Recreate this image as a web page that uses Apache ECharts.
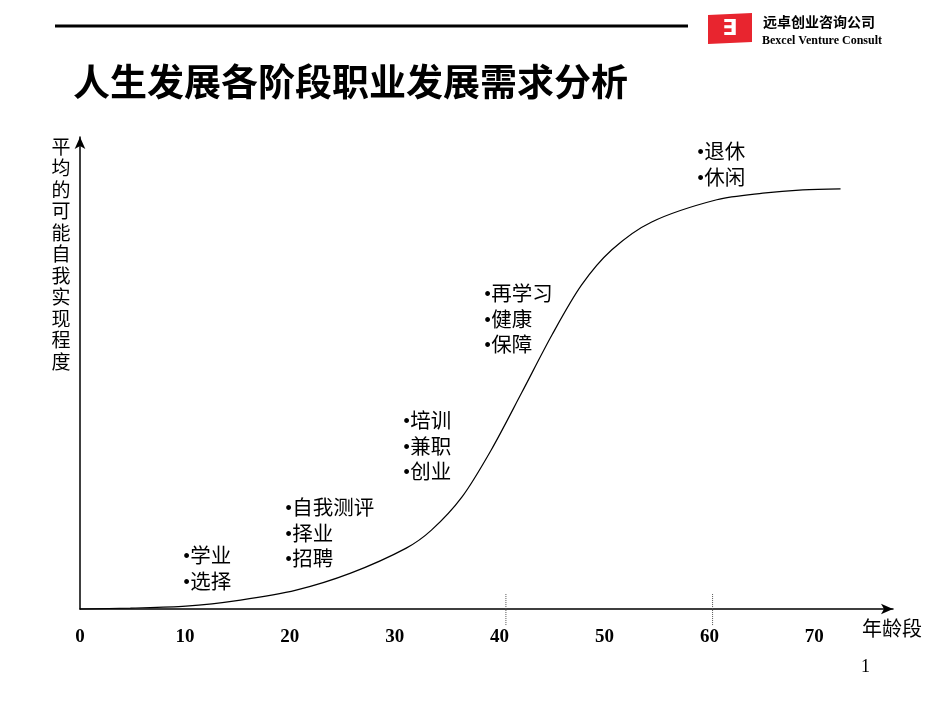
<!DOCTYPE html>
<html>
<head>
  <meta charset="utf-8">
  <script src="https://cdn.jsdelivr.net/npm/echarts@6/dist/echarts.min.js"></script>
  <style>html,body{margin:0;background:#fff}</style>
</head>
<body>
  <div id="chart" style="width:950px;height:713px;"></div>
  <script>
    // age (x) vs self-realisation level (y, 0-100)
    const ages = [0, 4.8, 10.1, 15.3, 20.6, 25.8, 31.1, 33.5, 36.4, 39.2, 42.1, 45.0, 47.8, 50.7, 54.5, 60.7, 65.1, 68.9, 72.5];
    const levels = [0, 0.2, 0.6, 1.9, 4.0, 7.6, 12.9, 16.7, 23.7, 33.7, 45.8, 58.1, 68.6, 76.1, 82.0, 86.7, 88.1, 88.8, 89.0];
    const tickAges = [0, 10, 20, 30, 40, 50, 60, 70];
    const markAges = [40.6, 60.3];
    const notes = [
      { x: 183, y: 545, lines: ['•学业', '•选择'] },
      { x: 285, y: 497, lines: ['•自我测评', '•择业', '•招聘'] },
      { x: 403, y: 410, lines: ['•培训', '•兼职', '•创业'] },
      { x: 484, y: 283, lines: ['•再学习', '•健康', '•保障'] },
      { x: 697, y: 141, lines: ['•退休', '•休闲'] }
    ];

    const chart = echarts.init(document.getElementById('chart'));
    const cjk = '"Noto Sans CJK SC", sans-serif';
    const mixed = '"Liberation Serif", "Noto Sans CJK SC", serif';

    const graphics = [
      { type: 'line', shape: { x1: 55, y1: 26, x2: 688, y2: 26 }, style: { stroke: '#000', lineWidth: 3 } },
      { type: 'polygon', shape: { points: [[708, 15], [752, 13], [752, 42], [708, 44]] }, style: { fill: '#e8252f' } },
      { type: 'text', style: { x: 730, y: 29, text: '∃', fill: '#fff', font: 'bold 22px DejaVu Sans', align: 'center', verticalAlign: 'middle' } },
      { type: 'text', style: { x: 763, y: 22, text: '远卓创业咨询公司', fill: '#000', font: 'bold 14px ' + cjk, verticalAlign: 'middle' } },
      { type: 'text', style: { x: 762, y: 41, text: 'Bexcel Venture Consult', fill: '#000', font: 'bold 12px "Liberation Serif"', verticalAlign: 'middle' } },
      { type: 'text', style: { x: 73, y: 82, text: '人生发展各阶段职业发展需求分析', fill: '#000', font: 'bold 37px ' + cjk, verticalAlign: 'middle' } },
      { type: 'text', style: { x: 61, y: 254, text: '平\n均\n的\n可\n能\n自\n我\n实\n现\n程\n度', fill: '#000', font: '19px ' + cjk, align: 'center', verticalAlign: 'middle', lineHeight: 21.5 } },
      { type: 'text', style: { x: 862, y: 628, text: '年龄段', fill: '#000', font: '20px ' + cjk, verticalAlign: 'middle' } },
      { type: 'text', style: { x: 861, y: 667, text: '1', fill: '#000', font: '18px "Liberation Serif"', verticalAlign: 'middle' } }
    ];
    notes.forEach(n => graphics.push({
      type: 'text',
      style: { x: n.x, y: n.y, text: n.lines.join('\n'), fill: '#000', font: '20.5px ' + mixed, lineHeight: 25.5 }
    }));

    const markSeries = markAges.map(a => ({
      type: 'line', showSymbol: false, clip: false, silent: true,
      data: [[a, -3.4], [a, 3.4]],
      lineStyle: { color: '#555', type: 'dotted', width: 1 }
    }));

    chart.setOption({
      animation: false,
      grid: { left: 80, right: 57, top: 137, bottom: 104 },
      xAxis: {
        type: 'value', min: 0, max: 77.5, interval: 10,
        axisLine: { lineStyle: { color: '#000', width: 1.5 }, symbol: ['none', 'arrow'], symbolSize: [8, 12] },
        axisTick: { show: false },
        splitLine: { show: false },
        axisLabel: {
          margin: 19, color: '#000', fontSize: 19, fontWeight: 'bold', fontFamily: 'Liberation Serif',
          customValues: tickAges, formatter: v => String(v)
        }
      },
      yAxis: {
        type: 'value', min: 0, max: 100,
        axisLine: { show: true, lineStyle: { color: '#000', width: 1.5 }, symbol: ['none', 'arrow'], symbolSize: [8, 12] },
        axisTick: { show: false }, axisLabel: { show: false }, splitLine: { show: false }
      },
      series: [{
        type: 'line', smooth: 0.3, showSymbol: false, clip: false,
        data: ages.map((a, i) => [a, levels[i]]),
        lineStyle: { color: '#000', width: 1.2 }
      }].concat(markSeries),
      graphic: graphics
    });
  </script>
</body>
</html>
